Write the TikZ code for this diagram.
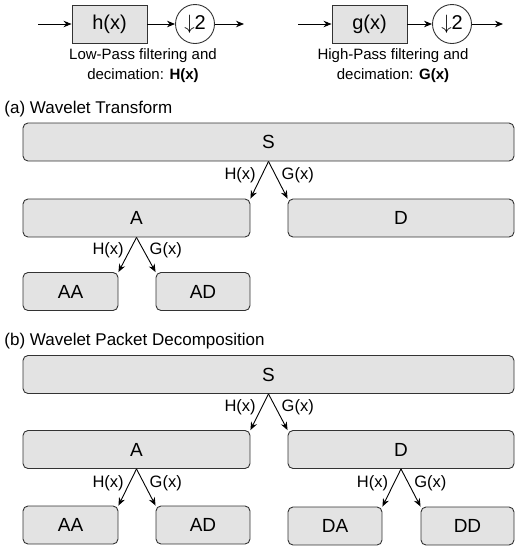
\documentclass[tikz,border=0pt]{standalone}
\usepackage{fontspec}
\setmainfont{Liberation Sans}
\usetikzlibrary{arrows.meta}
\definecolor{boxgray}{HTML}{E3E3E3}
\definecolor{edgegray}{HTML}{333333}

\begin{document}
\begin{tikzpicture}[>={Stealth[length=8pt, width=6.5pt]}, x=1pt, y=-1pt, line width=0.9pt,
                    every node/.style={font=\fontsize{15}{18}\selectfont},
                    band/.style={draw=edgegray, fill=boxgray, rounded corners=5pt,
                                 minimum height=38pt, inner sep=0pt, font=\fontsize{19}{22}\selectfont},
                    filt/.style={draw=edgegray, fill=boxgray, minimum width=75pt,
                                 minimum height=38pt, inner sep=0pt, font=\fontsize{20}{24}\selectfont},
                    down/.style={circle, draw=edgegray, minimum size=39pt, inner sep=0pt,
                                 font=\fontsize{20}{24}\selectfont},
                    lab/.style={inner sep=5.5pt, pos=0.38, font=\fontsize{16.5}{19}\selectfont}]
  \useasboundingbox (0,0) rectangle (515,547);

  % filter blocks
  \coordinate (hin) at (38,24);
  \node[filt] (hbox) at (109.5,24) {h(x)};
  \node[down] (hdown) at (195,24) {$\downarrow$2};
  \coordinate (hout) at (244,24);
  \draw[->] (hin) -- (hbox);
  \draw[->] (hbox) -- (hdown);
  \draw[->] (hdown) -- (hout);
  \node[align=center] (hnote) at (143,66) {Low-Pass filtering and\\[2pt]decimation: \textbf{H(x)}};

  \coordinate (gin) at (298,24);
  \node[filt] (gbox) at (369.5,24) {g(x)};
  \node[down] (gdown) at (452,24) {$\downarrow$2};
  \coordinate (gout) at (503,24);
  \draw[->] (gin) -- (gbox);
  \draw[->] (gbox) -- (gdown);
  \draw[->] (gdown) -- (gout);
  \node[align=center] (gnote) at (393,66) {High-Pass filtering and\\[2pt]decimation: \textbf{G(x)}};

  % (a) wavelet transform
  \node[anchor=west, inner sep=0pt, font=\fontsize{17}{20}\selectfont] (tita) at (4,109) {(a) Wavelet Transform};
  \node[band, minimum width=491pt] (sa) at (268.5,142) {S};
  \node[band, minimum width=227pt] (aa) at (136.5,218) {A};
  \node[band, minimum width=226pt] (da) at (401,218) {D};
  \node[band, minimum width=95pt] (aaa) at (70.5,291.5) {AA};
  \node[band, minimum width=94pt] (ada) at (203,291.5) {AD};
  \draw[->] (sa.south) -- node[lab, left]{H(x)} (aa.north east);
  \draw[->] (sa.south) -- node[lab, right]{G(x)} (da.north west);
  \draw[->] (aa.south) -- node[lab, left]{H(x)} (aaa.north east);
  \draw[->] (aa.south) -- node[lab, right]{G(x)} (ada.north west);

  % (b) wavelet packet decomposition
  \node[anchor=west, inner sep=0pt, font=\fontsize{17}{20}\selectfont] (titb) at (4,341) {(b) Wavelet Packet Decomposition};
  \node[band, minimum width=491pt] (sb) at (268.5,374.5) {S};
  \node[band, minimum width=227pt] (ab) at (136.5,449.5) {A};
  \node[band, minimum width=226pt] (db) at (401,449.5) {D};
  \node[band, minimum width=95pt] (aab) at (70.5,525) {AA};
  \node[band, minimum width=94pt] (adb) at (203,525) {AD};
  \node[band, minimum width=94pt] (dab) at (335,526) {DA};
  \node[band, minimum width=93pt] (ddb) at (467.5,526) {DD};
  \draw[->] (sb.south) -- node[lab, left]{H(x)} (ab.north east);
  \draw[->] (sb.south) -- node[lab, right]{G(x)} (db.north west);
  \draw[->] (ab.south) -- node[lab, left]{H(x)} (aab.north east);
  \draw[->] (ab.south) -- node[lab, right]{G(x)} (adb.north west);
  \draw[->] (db.south) -- node[lab, left]{H(x)} (dab.north east);
  \draw[->] (db.south) -- node[lab, right]{G(x)} (ddb.north west);
\end{tikzpicture}
\end{document}
